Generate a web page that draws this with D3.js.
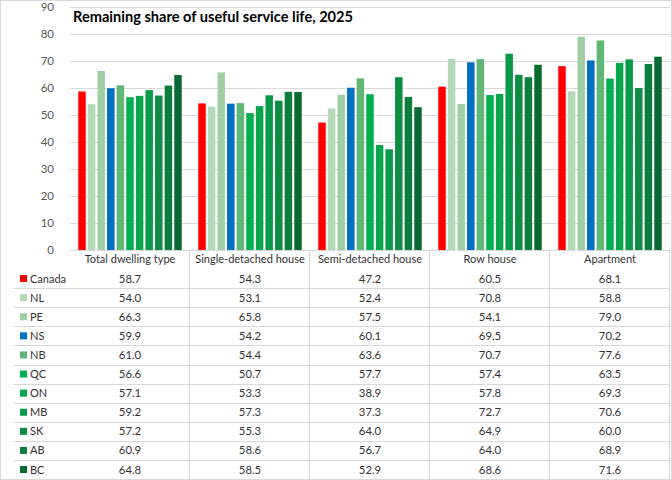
<!DOCTYPE html>
<html>
<head>
<meta charset="utf-8">
<script src="https://cdn.jsdelivr.net/npm/d3@7"></script>
<style>
  body { margin: 0; background: #fff; }
  text { font-family: Lato, "Liberation Sans", sans-serif; }
</style>
</head>
<body>
<script>
var categories = ["Total dwelling type", "Single-detached house", "Semi-detached house", "Row house", "Apartment"];
var regions = ["Canada", "NL", "PE", "NS", "NB", "QC", "ON", "MB", "SK", "AB", "BC"];
var regionColors = ["#ff0000", "#b3d9b9", "#a0cfa6", "#0070c0", "#62b676", "#00b050", "#0aa64e", "#0b9a4a", "#0e8c44", "#0e7e3d", "#076c31"];
var canada = [58.7, 54.3, 47.2, 60.5, 68.1];
var nl = [54.0, 53.1, 52.4, 70.8, 58.8];
var pe = [66.3, 65.8, 57.5, 54.1, 79.0];
var ns = [59.9, 54.2, 60.1, 69.5, 70.2];
var nb = [61.0, 54.4, 63.6, 70.7, 77.6];
var qc = [56.6, 50.7, 57.7, 57.4, 63.5];
var on = [57.1, 53.3, 38.9, 57.8, 69.3];
var mb = [59.2, 57.3, 37.3, 72.7, 70.6];
var sk = [57.2, 55.3, 64.0, 64.9, 60.0];
var ab = [60.9, 58.6, 56.7, 64.0, 68.9];
var bc = [64.8, 58.5, 52.9, 68.6, 71.6];
var yTicks = [0, 10, 20, 30, 40, 50, 60, 70, 80, 90];

var series = [canada, nl, pe, ns, nb, qc, on, mb, sk, ab, bc];

var W = 672, H = 480;
var svg = d3.select("body").append("svg").attr("width", W).attr("height", H);

// chart area border
svg.append("rect").attr("x", 0.5).attr("y", 0.5).attr("width", W - 1).attr("height", H - 1)
  .attr("fill", "#fff").attr("stroke", "#d9d9d9");

var x0 = d3.scaleBand().domain(categories).range([70, 670]);
var x1 = d3.scaleBand().domain(regions).range([0, x0.bandwidth()]).paddingInner(0.22).paddingOuter(0.86);
var y = d3.scaleLinear().domain([0, 90]).range([250, 7]);

// gridlines
svg.append("g").selectAll("line").data(yTicks).enter().append("line")
  .attr("x1", 70).attr("x2", 670)
  .attr("y1", function(d){ return Math.round(y(d)) + 0.5; })
  .attr("y2", function(d){ return Math.round(y(d)) + 0.5; })
  .attr("stroke", "#d9d9d9").attr("stroke-width", 1);

// y axis labels
var yAxis = d3.axisLeft(y).tickValues(yTicks).tickSize(0).tickPadding(0);
var ga = svg.append("g").attr("transform", "translate(54,0)").call(yAxis);
ga.select(".domain").remove();
ga.selectAll("text").attr("font-size", "11.5px").attr("fill", "#595959")
  .style("font-family", "Lato, 'Liberation Sans', sans-serif");

// bars
for (var s = 0; s < regions.length; s++) {
  svg.append("g").selectAll("rect")
    .data(series[s])
    .enter().append("rect")
    .attr("x", function(d, i){ return x0(categories[i]) + x1(regions[s]); })
    .attr("y", function(d){ return y(d); })
    .attr("width", x1.bandwidth())
    .attr("height", function(d){ return y(0) - y(d); })
    .attr("fill", regionColors[s]);
}

// title
svg.append("text").attr("x", 73).attr("y", 22)
  .attr("font-size", "14.6px").attr("font-weight", "bold").attr("fill", "#000")
  .text("Remaining share of useful service life, 2025");

// data table
var rowTop = 269, rowH = 19.1;
var tbl = svg.append("g");
// vertical lines
tbl.selectAll("line.v").data(categories.slice(1).concat(["end"])).enter().append("line")
  .attr("x1", function(d, i){ return Math.round(70 + (i + 1) * x0.bandwidth()) - 0.5; })
  .attr("x2", function(d, i){ return Math.round(70 + (i + 1) * x0.bandwidth()) - 0.5; })
  .attr("y1", 250).attr("y2", 479)
  .attr("stroke", "#d9d9d9");
// horizontal lines
tbl.selectAll("line.h").data(regions).enter().append("line")
  .attr("x1", 13).attr("x2", 670)
  .attr("y1", function(d, i){ return Math.round(rowTop + (i + 1) * rowH) + 0.5; })
  .attr("y2", function(d, i){ return Math.round(rowTop + (i + 1) * rowH) + 0.5; })
  .attr("stroke", "#d9d9d9");

// header
tbl.selectAll("text.cat").data(categories).enter().append("text")
  .attr("x", function(d){ return x0(d) + x0.bandwidth() / 2; })
  .attr("y", 263).attr("text-anchor", "middle")
  .attr("font-size", "11px").attr("fill", "#333")
  .text(function(d){ return d; });

// rows
regions.forEach(function(r, s) {
  var cy = rowTop + s * rowH + rowH / 2;
  tbl.append("rect").attr("x", 20).attr("y", cy - 3.5).attr("width", 7).attr("height", 7)
    .attr("fill", regionColors[s]);
  tbl.append("text").attr("x", 30).attr("y", cy + 4)
    .attr("font-size", "11px").attr("fill", "#333").text(r);
  tbl.selectAll("text.v" + s).data(series[s]).enter().append("text")
    .attr("x", function(d, i){ return x0(categories[i]) + x0.bandwidth() / 2; })
    .attr("y", cy + 4).attr("text-anchor", "middle")
    .attr("font-size", "11.3px").attr("fill", "#333")
    .text(function(d){ return d.toFixed(1); });
});
</script>
</body>
</html>
